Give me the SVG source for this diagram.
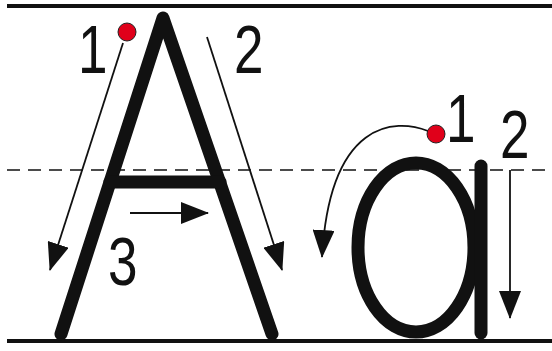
<svg xmlns="http://www.w3.org/2000/svg" width="552" height="351" viewBox="0 0 552 351">
<style>
.rule{stroke:#111;stroke-width:4;fill:none}
.dash{stroke:#111;stroke-width:1.6;stroke-dasharray:13 8;fill:none}
.letter{stroke:#111;stroke-width:13;fill:none;stroke-linecap:round;stroke-linejoin:round}
.arrow{stroke:#111;stroke-width:1.8;fill:none;marker-end:url(#ah)}
.num{font-family:"Liberation Sans",Arial,sans-serif;font-size:68px;fill:#111}
.dot{fill:#e0001a;stroke:#222;stroke-width:1}
</style>
<defs>
<marker id="ah" markerUnits="userSpaceOnUse" viewBox="0 0 28 22" markerWidth="28" markerHeight="22" refX="27" refY="11" orient="auto">
<path d="M0,0 L28,11 L0,22 z" fill="#111"/>
</marker>
</defs>
<rect width="552" height="351" fill="#fff"/>
<g id="guidelines">
<line class="rule" x1="7" y1="6" x2="552" y2="6"/>
<line class="dash" x1="7" y1="170" x2="552" y2="170"/>
<line class="rule" x1="7" y1="341" x2="552" y2="341"/>
</g>
<g id="letter-A">
<path class="letter" d="M61,334 L163,18 L272,334"/>
<line class="letter" x1="110" y1="182" x2="220" y2="182" stroke-linecap="butt"/>
</g>
<g id="letter-a">
<ellipse class="letter" cx="416" cy="247.5" rx="58" ry="84.5"/>
<line class="letter" x1="481" y1="166" x2="481" y2="333"/>
</g>
<g id="connectors">
<line class="arrow" x1="123" y1="43" x2="50" y2="270"/>
<line class="arrow" x1="207" y1="37" x2="282" y2="270"/>
<line class="arrow" x1="130" y1="213" x2="208" y2="213"/>
<path class="arrow" d="M428,131 C395,118 330,120 322,257"/>
<line class="arrow" x1="510" y1="170" x2="510" y2="318"/>
</g>
<g id="dots">
<circle class="dot" cx="127" cy="32" r="9"/>
<circle class="dot" cx="436" cy="134" r="9"/>
</g>
<g id="labels">
<text class="num" transform="translate(78,73) scale(0.78,1)">1</text>
<text class="num" transform="translate(234,73) scale(0.78,1)">2</text>
<text class="num" transform="translate(108,285) scale(0.78,1)">3</text>
<text class="num" transform="translate(446,142) scale(0.78,1)">1</text>
<text class="num" transform="translate(500,158) scale(0.78,1)">2</text>
</g>
</svg>
